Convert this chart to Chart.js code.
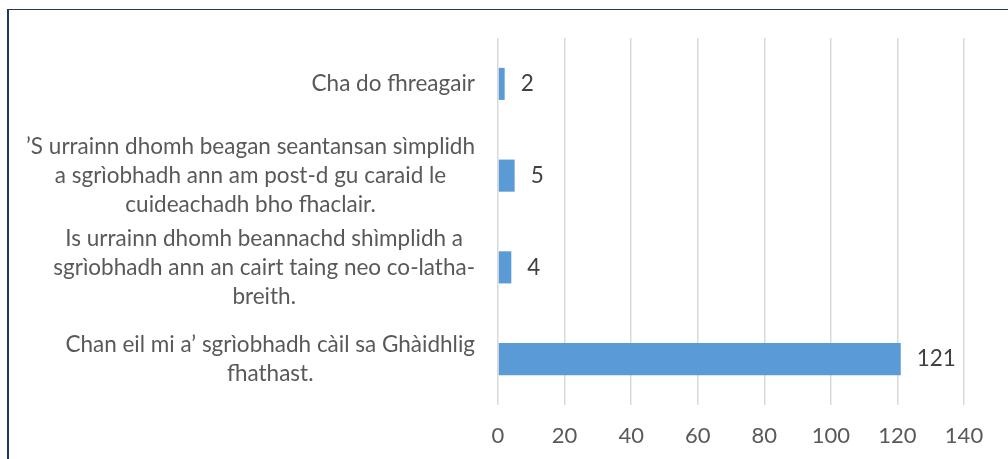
<!DOCTYPE html>
<html>
<head>
<meta charset="utf-8">
<script src="https://cdn.jsdelivr.net/npm/chart.js@4"></script>
<style>
  body { margin: 0; background: #fff; overflow: hidden; }
  #wrap { position: relative; width: 1008px; height: 459px; }
  canvas { display: block; }
  #frame {
    position: absolute; left: 7px; top: 9px; width: 1100px; height: 500px;
    border-left: 2px solid #1f3864; border-top: 1px solid #1f3864;
    pointer-events: none;
  }
</style>
</head>
<body>
<div id="wrap">
  <canvas id="chart" width="1008" height="459"></canvas>
  <div id="frame"></div>
</div>
<script>
// categories, top to bottom, with the line breaks as shown
const categories = [
    ['Cha do fhreagair'],
    ['’S urrainn dhomh beagan seantansan sìmplidh', 'a sgrìobhadh ann am post-d gu caraid le', 'cuideachadh bho fhaclair.'],
    ['Is urrainn dhomh beannachd shìmplidh a', 'sgrìobhadh ann an cairt taing neo co-latha-', 'breith.'],
    ['Chan eil mi a’ sgrìobhadh càil sa Ghàidhlig', 'fhathast.']
];
const values = [2, 5, 4, 121];
const xTicks = [0, 20, 40, 60, 80, 100, 120, 140];

const FONT = 'Lato';

// category labels: each block right-aligned, its lines centred
const categoryLabels = {
    id: 'categoryLabels',
    afterDraw(chart) {
        const ctx = chart.ctx;
        const y = chart.scales.y;
        const lineH = 29;
        ctx.save();
        ctx.font = '22.5px ' + FONT;
        ctx.fillStyle = '#595959';
        ctx.textAlign = 'center';
        ctx.textBaseline = 'middle';
        categories.forEach((lines, i) => {
            const w = Math.max(...lines.map(l => ctx.measureText(l).width));
            const cx = chart.chartArea.left - 23 - w / 2;
            const cy = y.getPixelForValue(i);
            lines.forEach((l, j) => {
                ctx.fillText(l, cx, cy + (j - (lines.length - 1) / 2) * lineH);
            });
        });
        ctx.restore();
    }
};

// value labels at the end of each bar
const valueLabels = {
    id: 'valueLabels',
    afterDatasetsDraw(chart) {
        const ctx = chart.ctx;
        const meta = chart.getDatasetMeta(0);
        ctx.save();
        ctx.font = '22.5px ' + FONT;
        ctx.fillStyle = '#404040';
        ctx.textAlign = 'left';
        ctx.textBaseline = 'middle';
        meta.data.forEach((bar, i) => {
            ctx.fillText(String(values[i]), bar.x + 16, bar.y);
        });
        ctx.restore();
    }
};

const ctx = document.getElementById('chart').getContext('2d');
const chart = new Chart(ctx, {
    type: 'bar',
    data: {
        labels: categories.map(c => c.join(' ')),
        datasets: [{
            data: values,
            backgroundColor: '#5b9bd5',
            categoryPercentage: 1,
            barPercentage: 0.35
        }]
    },
    options: {
        indexAxis: 'y',
        responsive: false,
        animation: false,
        layout: { padding: { left: 498, right: 44, top: 38, bottom: 0 } },
        plugins: {
            legend: { display: false },
            tooltip: { enabled: false }
        },
        scales: {
            x: {
                min: 0,
                max: 140,
                afterBuildTicks: (scale) => { scale.ticks = xTicks.map(v => ({ value: v })); },
                afterFit: (scale) => { scale.height = 54; },
                grid: { color: '#d9d9d9', lineWidth: 1.5, drawTicks: false },
                border: { display: false },
                ticks: {
                    padding: 18,
                    color: '#595959',
                    font: { family: FONT, size: 22 }
                }
            },
            y: {
                afterFit: (scale) => { scale.width = 0; },
                grid: { display: false },
                border: { display: false },
                ticks: { display: false }
            }
        }
    },
    plugins: [categoryLabels, valueLabels]
});
</script>
</body>
</html>
